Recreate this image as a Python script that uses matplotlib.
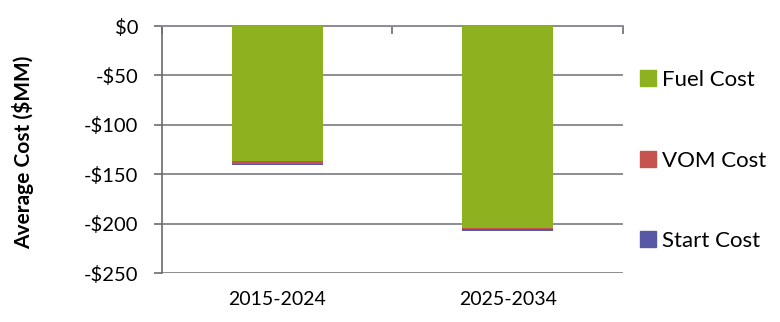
import matplotlib
matplotlib.use("Agg")
import matplotlib.pyplot as plt
from matplotlib.lines import Line2D

# Average cost by period, $MM (stacked, negative values)
periods = ["2015-2024", "2025-2034"]
fuel_cost = [-137.0, -204.0]
vom_cost = [-2.5, -1.5]
start_cost = [-1.5, -1.5]
y_ticks = [0, -50, -100, -150, -200, -250]
y_tick_labels = ["$0", "-$50", "-$100", "-$150", "-$200", "-$250"]

green = "#8DB11F"
red = "#C55450"
blue = "#5658A6"
grid_col = "#8C8C94"

plt.rcParams["font.family"] = ["Lato", "DejaVu Sans"]

fig = plt.figure(figsize=(7.8, 3.22), dpi=100)
ax = fig.add_axes([0.2077, 0.152, 0.591, 0.767])

x = list(range(len(periods)))
w = 0.395
ax.bar(x, fuel_cost, w, color=green, zorder=3)
bottom2 = [f for f in fuel_cost]
ax.bar(x, vom_cost, w, bottom=bottom2, color=red, zorder=3)
bottom3 = [f + v for f, v in zip(fuel_cost, vom_cost)]
ax.bar(x, start_cost, w, bottom=bottom3, color=blue, zorder=3)

ax.set_ylim(-250, 0)
ax.set_xlim(-0.5, 1.5)
ax.set_yticks(y_ticks)
ax.set_yticklabels(y_tick_labels, fontsize=14.5)
ax.yaxis.grid(True, color=grid_col, linewidth=1.4, zorder=0)
ax.tick_params(axis="y", length=6, width=1.2, color="#6a6a70", pad=11)

ax.set_xticks(x)
ax.set_xticklabels(periods, fontsize=14)
ax.tick_params(axis="x", which="major", length=0, pad=13)
ax.set_xticks([-0.5, 0.5, 1.5], minor=True)
ax.tick_params(axis="x", which="minor", top=True, bottom=False,
               direction="in", length=6, width=1.2, color="#6a6a70")

for s in ["right", "bottom"]:
    ax.spines[s].set_visible(False)
ax.spines["top"].set_color(grid_col)
ax.spines["top"].set_linewidth(1.4)
ax.spines["left"].set_color("#6a6a70")
ax.spines["left"].set_linewidth(1.2)

ax.set_ylabel("Average Cost ($MM)", fontsize=15, fontweight="bold")
ax.yaxis.set_label_coords(-0.278, 0.49)

handles = [Line2D([], [], marker="s", linestyle="none", markersize=11.5, color=c)
           for c in (green, red, blue)]
fig.legend(handles, ["Fuel Cost", "VOM Cost", "Start Cost"],
           loc="upper left", bbox_to_anchor=(0.806, 0.81), frameon=False,
           fontsize=16, labelspacing=2.72, handletextpad=0.2,
           handlelength=0.9, borderaxespad=0)

fig.savefig("out.png", dpi=100, facecolor="white")
